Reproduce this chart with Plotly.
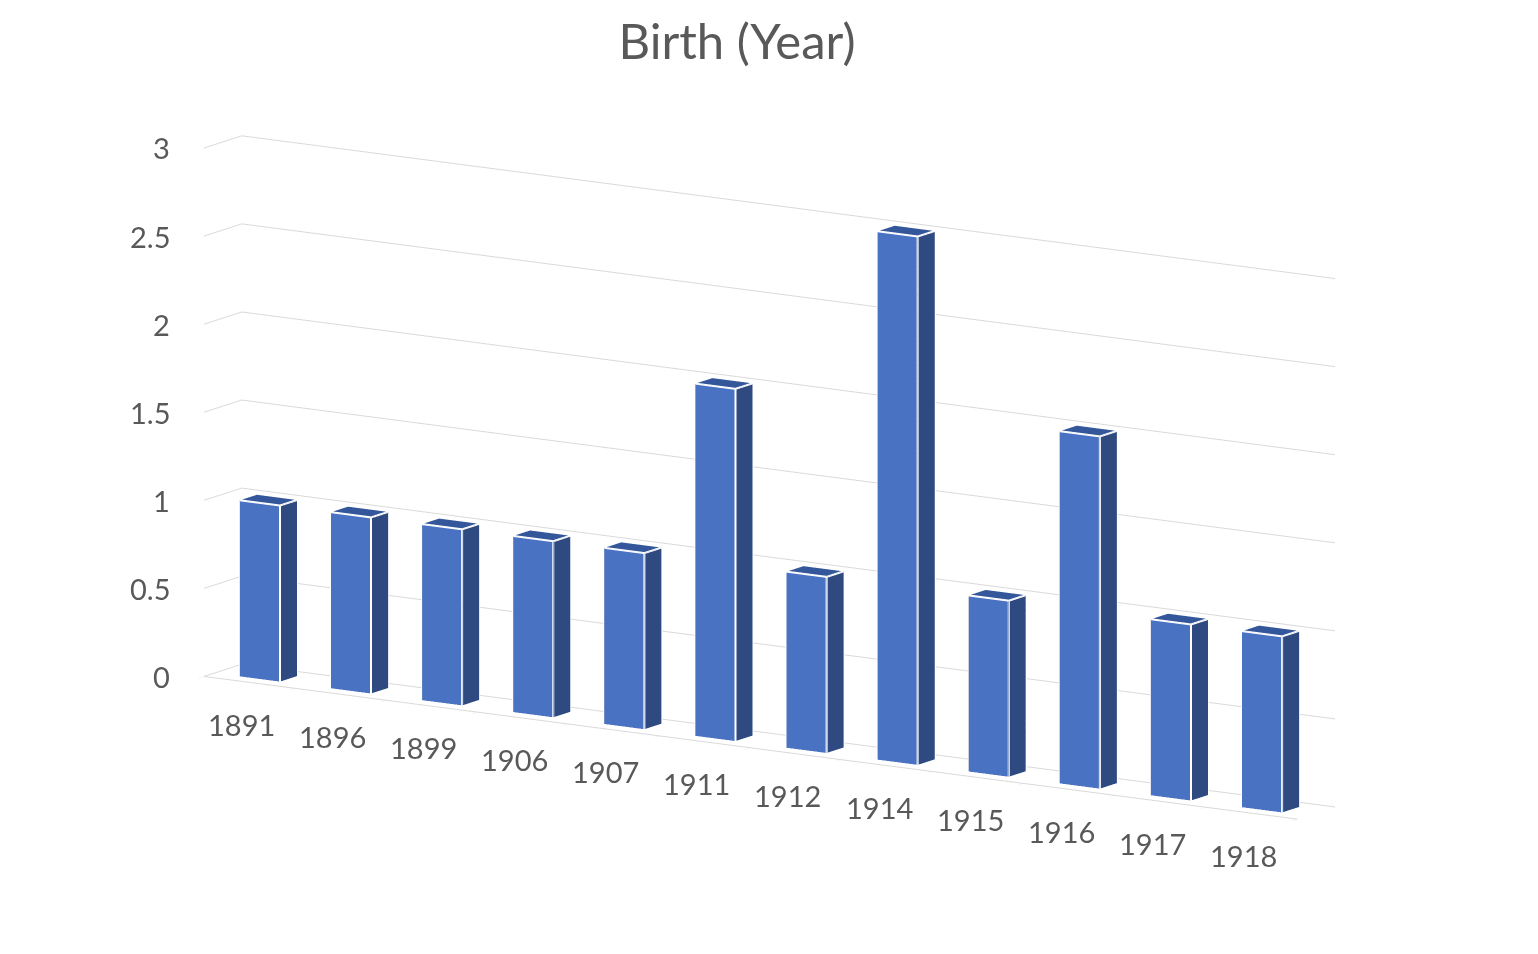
import plotly.graph_objects as go

# --- data ---
years = ['1891', '1896', '1899', '1906', '1907', '1911', '1912',
         '1914', '1915', '1916', '1917', '1918']
counts = [1, 1, 1, 1, 1, 2, 1, 3, 1, 2, 1, 1]
z_ticks = [0, 0.5, 1, 1.5, 2, 2.5, 3]
z_tick_text = ['0', '0.5', '1', '1.5', '2', '2.5', '3']

bar_w = 0.44   # width along category axis
bar_d = 0.45   # depth
y_mid = 0.5

FRONT = '#4A72C2'
SIDE = '#2E4A80'
TOP = '#34569A'

xs, ys, zs = [], [], []
ii, jj, kk = [], [], []
fcol = []
ex, ey, ez = [], [], []

for idx, val in enumerate(counts):
    x0, x1 = idx - bar_w / 2, idx + bar_w / 2
    y0, y1 = y_mid - bar_d / 2, y_mid + bar_d / 2
    z0, z1 = 0, val
    base = len(xs)
    pts = [(x0, y0, z0), (x1, y0, z0), (x1, y1, z0), (x0, y1, z0),
           (x0, y0, z1), (x1, y0, z1), (x1, y1, z1), (x0, y1, z1)]
    for p in pts:
        xs.append(p[0]); ys.append(p[1]); zs.append(p[2])
    faces = [
        ((0, 1, 2), FRONT), ((0, 2, 3), FRONT),      # bottom
        ((4, 5, 6), TOP), ((4, 6, 7), TOP),          # top
        ((0, 1, 5), FRONT), ((0, 5, 4), FRONT),      # front
        ((3, 2, 6), SIDE), ((3, 6, 7), SIDE),        # back
        ((0, 3, 7), SIDE), ((0, 7, 4), SIDE),        # left
        ((1, 2, 6), SIDE), ((1, 6, 5), SIDE),        # right
    ]
    for (a, b, c), col in faces:
        ii.append(base + a); jj.append(base + b); kk.append(base + c)
        fcol.append(col)
    # white visible edges
    for a, b in [(0, 1), (1, 5), (5, 4), (4, 0), (1, 2), (2, 6), (6, 5), (6, 7), (7, 4)]:
        ex += [pts[a][0], pts[b][0], None]
        ey += [pts[a][1], pts[b][1], None]
        ez += [pts[a][2], pts[b][2], None]

fig = go.Figure()
fig.add_trace(go.Mesh3d(
    x=xs, y=ys, z=zs, i=ii, j=jj, k=kk,
    facecolor=fcol, flatshading=True,
    lighting=dict(ambient=1, diffuse=0, specular=0, roughness=1, fresnel=0),
    hoverinfo='skip', showscale=False
))
fig.add_trace(go.Scatter3d(
    x=ex, y=ey, z=ez, mode='lines',
    line=dict(color='white', width=4),
    hoverinfo='skip', showlegend=False
))

font_col = '#595959'
tick_font = dict(family='Lato', size=29, color=font_col)

# horizontal category labels under the front edge
labels = [dict(x=i, y=0.0, z=0, text=t, showarrow=False, yshift=-42,
               xshift=-8, font=tick_font)
          for i, t in enumerate(years)]
# horizontal value labels at the front-left corner
labels += [dict(x=-0.5, y=0.0, z=v, text=t, showarrow=False,
                xanchor='right', xshift=-32, font=tick_font)
           for v, t in zip(z_ticks, z_tick_text)]

fig.update_layout(
    title=dict(text='Birth (Year)', x=0.474, y=0.965, xanchor='center',
               yanchor='middle',
               font=dict(family='Lato', size=49, color=font_col)),
    font=dict(family='Lato', color=font_col),
    scene=dict(
        xaxis=dict(
            title=dict(text=''),
            tickvals=[i - 0.5 for i in range(len(years) + 1)],
            ticktext=[''] * (len(years) + 1),
            range=[-0.5, len(years) - 0.5],
            showgrid=False, showbackground=False,
            showline=True, linecolor='#D9D9D9', linewidth=2, ticks='outside',
            tickcolor='#D9D9D9', ticklen=8, zeroline=False,
        ),
        yaxis=dict(
            title=dict(text=''), range=[0, 1],
            showticklabels=False, showgrid=False, showbackground=False,
            showline=False, zeroline=False, ticks='',
        ),
        zaxis=dict(
            title=dict(text=''), range=[0, 3],
            tickvals=z_ticks, ticktext=[''] * len(z_ticks),
            gridcolor='#D9D9D9', gridwidth=2, showbackground=False,
            showline=False, zeroline=False,
        ),
        annotations=labels,
        aspectmode='manual',
        aspectratio=dict(x=2.76, y=0.15, z=1.15),
        camera=dict(eye=dict(x=1.05, y=-1.65, z=0.41),
                    center=dict(x=0, y=0, z=0),
                    projection=dict(type='orthographic')),
        domain=dict(x=[0.0, 0.99], y=[0.016, 1.0]),
    ),
    paper_bgcolor='white',
    width=1538, height=954,
    margin=dict(l=0, r=0, t=0, b=0),
    showlegend=False,
)

fig.write_html('out.html')
